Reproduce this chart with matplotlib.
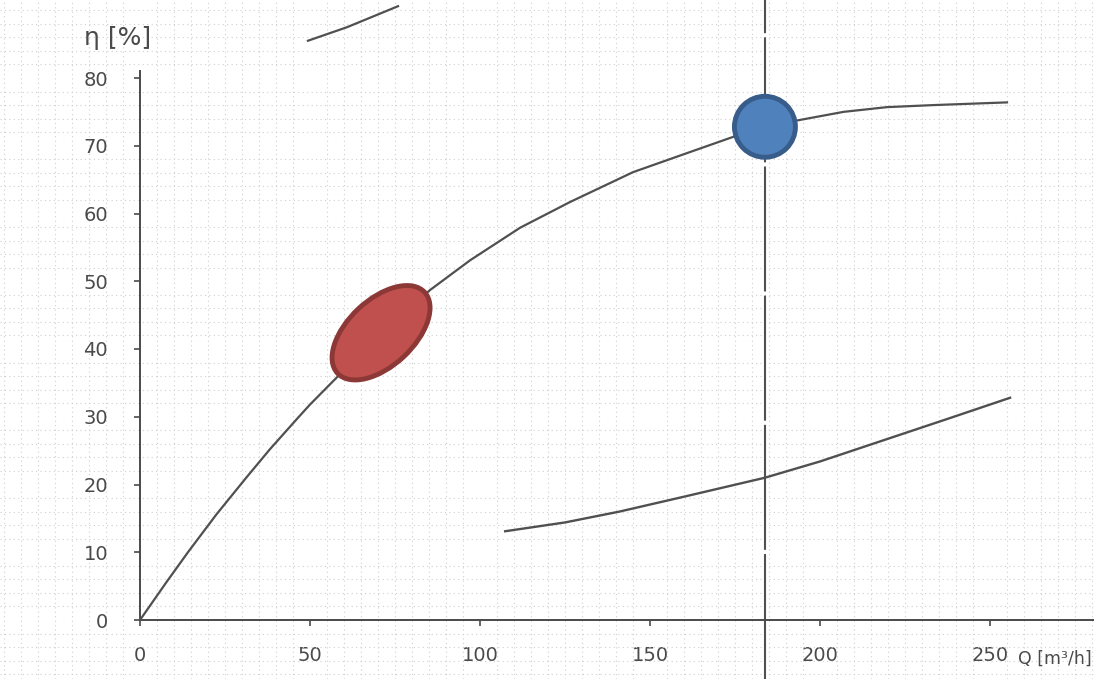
import numpy as np
import matplotlib
matplotlib.use("Agg")
import matplotlib.pyplot as plt
from matplotlib.patches import Ellipse
from matplotlib import transforms
from matplotlib.ticker import MultipleLocator

# efficiency curve eta(Q)
q_eta = [0, 7.8, 14.1, 22.5, 31.4, 38.2, 46.2, 50, 56.5, 70.9, 85.3, 97.1, 111.8, 126.5,
         145, 160.8, 174.4, 183.8, 194, 206.9, 219.7, 233.3, 255]
eta = [0, 5.6, 10.0, 15.6, 21.1, 25.2, 29.7, 31.8, 35.1, 42.4, 48.7, 53.1, 57.9, 61.7,
       66.1, 68.9, 71.3, 72.8, 73.8, 75.0, 75.7, 76.0, 76.4]

# lower curve
q_low = [107.4, 125, 141, 160, 183.8, 200, 218.5, 237, 255.9]
v_low = [13.1, 14.4, 16.0, 18.2, 21.0, 23.4, 26.5, 29.6, 32.8]

# partial curve at the top
q_top = [49.4, 60.9, 75.9]
v_top = [85.5, 87.5, 90.6]

q_design = 183.8          # vertical line / blue point
blue_pt = (183.8, 72.8)
red_pt = (70.9, 42.4)

xticks = [0, 50, 100, 150, 200, 250]
yticks = [0, 10, 20, 30, 40, 50, 60, 70, 80]

ink = "#4a4a4a"
line_c = "#505050"

fig = plt.figure(figsize=(10.94, 6.79), dpi=100)
ax = fig.add_axes([0, 0, 1, 1])
sx, sy = 3.4, 6.775   # pixels per unit
ax.set_xlim(-140 / sx, (1094 - 140) / sx)
ax.set_ylim(-(679 - 620) / sy, 620 / sy)

# scanned paper texture
ax.xaxis.set_minor_locator(MultipleLocator(5))
ax.yaxis.set_minor_locator(MultipleLocator(2))
ax.grid(which="minor", color="#cfcfcf", ls=(0, (1, 3)), lw=0.8)
ax.tick_params(which="minor", length=0)

for s in ["top", "right"]:
    ax.spines[s].set_visible(False)
ax.spines["left"].set_position(("data", 0))
ax.spines["bottom"].set_position(("data", 0))
ax.spines["left"].set_bounds(0, 81)
ax.spines["bottom"].set_bounds(0, 281)
for s in ["left", "bottom"]:
    ax.spines[s].set_color(ink)
    ax.spines[s].set_linewidth(1.4)

ax.set_xticks(xticks)
ax.set_yticks(yticks)
ax.tick_params(axis="y", length=4, width=1.2, pad=19, color=ink, labelcolor=ink, labelsize=14)
ax.tick_params(axis="x", length=4, width=1.2, pad=15, color=ink, labelcolor=ink, labelsize=14)

ax.plot(q_eta, eta, color=line_c, lw=1.6, zorder=3, solid_joinstyle="round")
ax.plot(q_low, v_low, color=line_c, lw=1.7, zorder=3, solid_joinstyle="round")
ax.plot(q_top, v_top, color=line_c, lw=1.6, zorder=3)
ax.axvline(q_design, color=line_c, lw=1.5, ls=(0, (60, 2)), zorder=2)

def marker_trans(x, y):
    return fig.dpi_scale_trans + transforms.ScaledTranslation(x, y, ax.transData)

ax.add_patch(Ellipse((0, 0), 0.61, 0.61, transform=marker_trans(*blue_pt),
                     facecolor="#4f81bd", edgecolor="#385d8a", lw=3.5, zorder=5))
ax.add_patch(Ellipse((0, 0), 1.19, 0.66, angle=43, transform=marker_trans(*red_pt),
                     facecolor="#c0504d", edgecolor="#8c3836", lw=3.5, zorder=5))

fig.text(84 / 1094, 1 - 45 / 679, "η [%]", fontsize=18, color=ink)
fig.text(1092 / 1094, 1 - 664 / 679, "Q [m³/h]", fontsize=12.5, color=ink, ha="right")

fig.savefig("out.png", dpi=100)
